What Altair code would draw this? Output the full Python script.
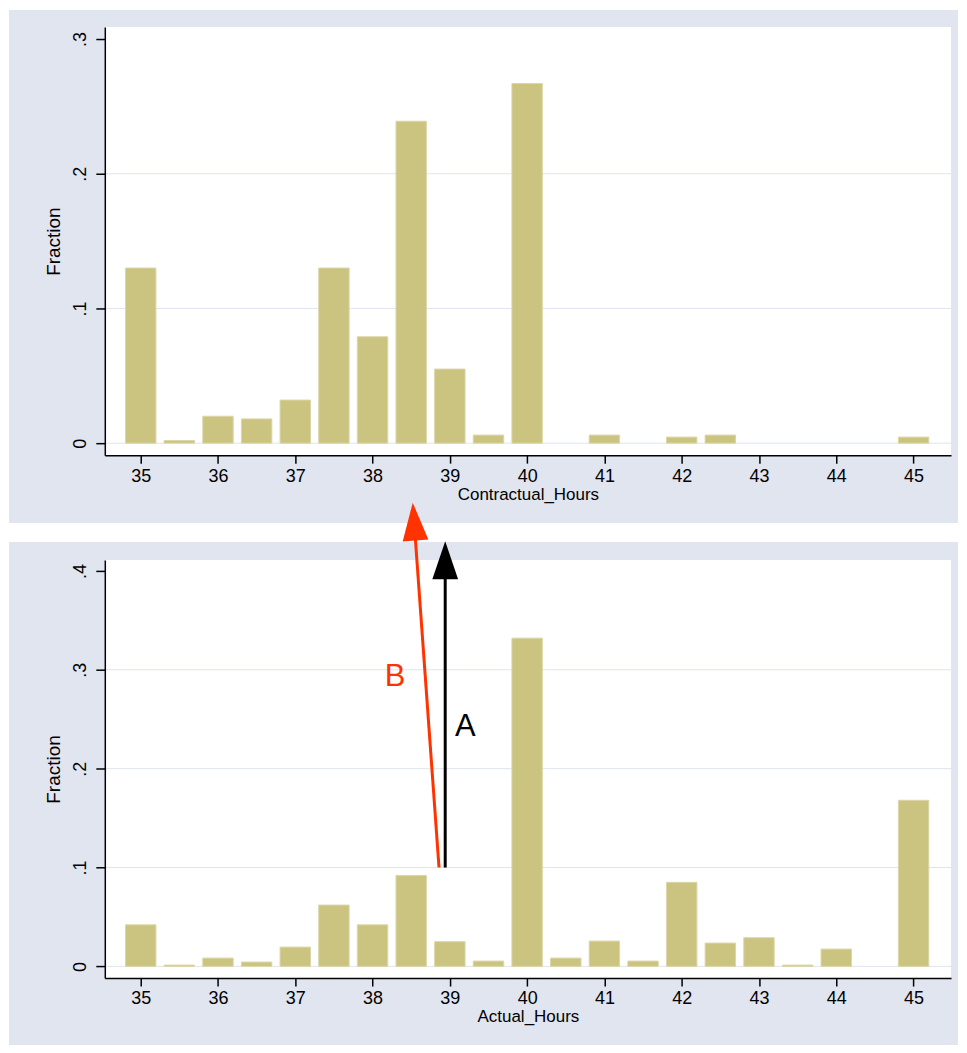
import math
import altair as alt
import pandas as pd

# ---------------- data ----------------
hours = [35.0, 35.5, 36.0, 36.5, 37.0, 37.5, 38.0, 38.5, 39.0, 39.5, 40.0,
         40.5, 41.0, 41.5, 42.0, 42.5, 43.0, 43.5, 44.0, 44.5, 45.0]
contractual_frac = [0.130, 0.002, 0.020, 0.018, 0.032, 0.130, 0.079, 0.239, 0.055, 0.006, 0.267,
                    0.0, 0.006, 0.0, 0.0045, 0.006, 0.0, 0.0, 0.0, 0.0, 0.0045]
actual_frac = [0.042, 0.0013, 0.0084, 0.0044, 0.0195, 0.062, 0.042, 0.092, 0.025, 0.0054, 0.332,
               0.0084, 0.0256, 0.0054, 0.085, 0.0236, 0.029, 0.0013, 0.0175, 0.0, 0.168]

x_ticks = [35, 36, 37, 38, 39, 40, 41, 42, 43, 44, 45]
top_y_ticks = [0, 0.1, 0.2, 0.3]
bottom_y_ticks = [0, 0.1, 0.2, 0.3, 0.4]
top_grid = [0, 0.1, 0.2]
bottom_grid = [0, 0.1, 0.2, 0.3]

x_range = [34.6, 45.42]
top_y_range = [-0.0089, 0.3089]
bottom_y_range = [-0.0118, 0.4111]

arrow_labels = ["A", "B"]
arrow_x_start = [38.94, 38.86]
arrow_y_start = [0.1, 0.1]
arrow_x_end = [38.94, 38.52]
arrow_y_end = [0.430, 0.469]
arrow_colors = ["#000000", "#ff3300"]
label_x = [39.20, 38.29]
label_y = [0.233, 0.284]

# ---------------- style ----------------
FONT = "Liberation Sans"
PANEL = "#e1e5ef"
GRID = "#dfe4ee"
BAR = "#cbc480"
BAR_EDGE = "#dcd6a8"
W = 848
H_TOP = 429
H_BOT = 419


def x_axis(title):
    return alt.Axis(values=x_ticks, title=title, grid=False, zindex=1,
                    labelFontSize=18, titleFontSize=17, labelFont=FONT, titleFont=FONT,
                    titleFontWeight="normal", labelColor="black", titleColor="black",
                    tickColor="black", domainColor="black", tickSize=8, tickWidth=1.5,
                    domainWidth=1.5, labelPadding=4, titlePadding=1, labelFlush=False,
                    labelOverlap=False)


def y_axis(vals):
    return alt.Axis(values=vals, title="Fraction", grid=False, zindex=1,
                    labelExpr="datum.value == 0 ? '0' : replace(format(datum.value, '.1f'), '0.', '.')",
                    labelAngle=270, labelAlign="center", labelBaseline="bottom",
                    labelFontSize=18, titleFontSize=19, labelFont=FONT, titleFont=FONT,
                    titleFontWeight="normal", labelColor="black", titleColor="black",
                    tickColor="black", domainColor="black", tickSize=9, tickWidth=1.5,
                    domainWidth=1.5, labelPadding=6, titlePadding=8, labelFlush=False,
                    labelOverlap=False)


def panel(frac, title, yticks, grid_vals, y_range, height, top_off, panel_bottom):
    df = pd.DataFrame({"hours": hours, "frac": frac})
    xs = alt.Scale(domain=x_range, nice=False, zero=False)
    ys = alt.Scale(domain=y_range, nice=False, zero=False)
    xa = x_axis(title)
    ya = y_axis(yticks)
    one = alt.Data(values=[{"k": 1}])

    bg = alt.Chart(one).mark_rect(color=PANEL).encode(
        x=alt.value(-96), x2=alt.value(855), y=alt.value(top_off),
        y2=alt.value(panel_bottom))
    plot_bg = alt.Chart(one).mark_rect(color="white").encode(
        x=alt.value(0), x2=alt.value(W), y=alt.value(0), y2=alt.value(height))
    grid = alt.Chart(pd.DataFrame({"g": grid_vals})).mark_rule(color=GRID, strokeWidth=1).encode(
        y=alt.Y("g:Q", scale=ys, axis=ya))
    bars = alt.Chart(df).transform_filter("datum.frac > 0").mark_bar(
        size=30.5, orient="vertical", color=BAR, stroke=BAR_EDGE, strokeWidth=1).encode(
        x=alt.X("hours:Q", scale=xs, axis=xa),
        y=alt.Y("frac:Q", scale=ys, axis=ya))
    return [bg, plot_bg, grid, bars], xs, ys, xa, ya


top_layers, _, _, _, _ = panel(contractual_frac, "Contractual_Hours", top_y_ticks, top_grid,
                               top_y_range, H_TOP, -17, 497)
top = alt.layer(*top_layers).properties(width=W, height=H_TOP)

bot_layers, xs, ys, xa, ya = panel(actual_frac, "Actual_Hours", bottom_y_ticks, bottom_grid,
                                   bottom_y_range, H_BOT, -18, 486)

px_x = W / (x_range[1] - x_range[0])
px_y = H_BOT / (bottom_y_range[1] - bottom_y_range[0])

arrows = pd.DataFrame({"lab": arrow_labels, "x0": arrow_x_start, "y0": arrow_y_start,
                       "x1": arrow_x_end, "y1": arrow_y_end, "col": arrow_colors,
                       "lx": label_x, "ly": label_y})
arrow_base = alt.Chart(arrows).transform_calculate(
    xe="datum.x0 + 0.9 * (datum.x1 - datum.x0)",
    ye="datum.y0 + 0.9 * (datum.y1 - datum.y0)",
    ang=f"(360 + atan2((datum.x1 - datum.x0) * {px_x:.4f}, (datum.y1 - datum.y0) * {px_y:.4f}) * 180 / PI) % 360",
)
shafts = arrow_base.mark_rule(strokeWidth=3).encode(
    x=alt.X("x0:Q", scale=xs, axis=xa), x2="xe:Q",
    y=alt.Y("y0:Q", scale=ys, axis=ya), y2="ye:Q",
    color=alt.Color("col:N", scale=None))
heads = arrow_base.mark_point(shape="M0,0L0.68,2L-0.68,2Z", filled=True, size=1444,
                              opacity=1, strokeWidth=0).encode(
    x=alt.X("x1:Q", scale=xs, axis=xa),
    y=alt.Y("y1:Q", scale=ys, axis=ya),
    angle=alt.Angle("ang:Q", scale=None),
    color=alt.Color("col:N", scale=None))
labels = alt.Chart(arrows).mark_text(fontSize=31, font=FONT, align="center",
                                     baseline="alphabetic").encode(
    x=alt.X("lx:Q", scale=xs, axis=xa),
    y=alt.Y("ly:Q", scale=ys, axis=ya),
    text="lab:N",
    color=alt.Color("col:N", scale=None))

bottom = alt.layer(*bot_layers, shafts, heads, labels).properties(width=W, height=H_BOT)

chart = alt.vconcat(top, bottom, spacing=105, bounds="flush").properties(
    padding=0, background="white", autosize=alt.AutoSizeParams(type="pad")
).configure_view(stroke=None).configure(font=FONT)

chart.save("out.html", embed_options={"renderer": "svg", "actions": False})
